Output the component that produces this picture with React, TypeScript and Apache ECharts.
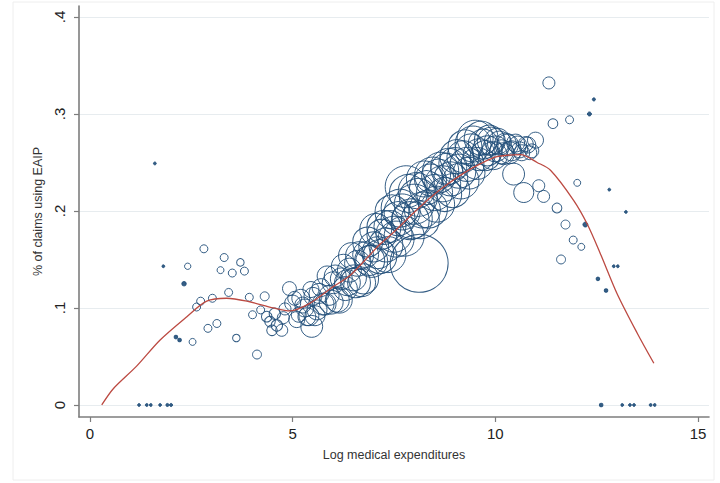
import React, { useEffect, useRef } from "react";
import * as echarts from "echarts";

// Binned observations: log medical expenditure, share of claims using EAIP, claims per bin
const logExp = [
  1.21, 1.4, 1.5, 1.6, 1.73, 1.81, 1.91, 2.0, 2.12, 2.21, 2.32, 2.41, 2.53, 2.63, 2.73, 2.81,
  2.91, 3.02, 3.13, 3.22, 3.31, 3.42, 3.51, 3.61, 3.71, 3.81, 3.93, 4.01, 4.12, 4.21, 4.31,
  4.36, 4.44, 4.49, 4.56, 4.61, 4.73, 4.77, 4.81, 4.92,
  5.0, 5.1, 5.2, 5.3, 5.4, 5.47, 5.5, 5.6, 5.7, 5.8, 5.9, 6.0, 6.1, 6.2, 6.3, 6.4, 6.5, 6.6,
  6.7, 6.8, 6.9, 7.0, 7.1, 7.2, 7.3, 7.4, 7.5, 7.6, 7.7, 7.8, 7.9, 8.0, 8.1, 8.12, 8.2, 8.3,
  8.4, 8.5, 8.6, 8.7, 8.8, 8.9, 9.0, 9.1, 9.2, 9.3, 9.4, 9.5, 9.6, 9.7, 9.8, 9.9, 10.0, 10.1,
  10.2, 10.3, 10.4, 10.45, 10.5, 10.6, 10.7, 10.8, 10.9, 10.99, 11.07, 11.19,
  11.32, 11.42, 11.52, 11.62, 11.73, 11.83, 11.92, 12.02, 12.12, 12.22, 12.32, 12.43, 12.53,
  12.61, 12.73, 12.81, 12.92, 13.02, 13.13, 13.22, 13.32, 13.42, 13.83, 13.93,
];
const claimShare = [
  0, 0, 0, 0.249, 0, 0.143, 0, 0, 0.07, 0.067, 0.125, 0.143, 0.065, 0.101, 0.107, 0.161,
  0.079, 0.11, 0.084, 0.139, 0.152, 0.116, 0.136, 0.069, 0.147, 0.138, 0.111, 0.093, 0.052, 0.098, 0.112,
  0.091, 0.086, 0.077, 0.094, 0.082, 0.077, 0.09, 0.099, 0.12,
  0.105, 0.088, 0.11, 0.1, 0.092, 0.081, 0.112, 0.098, 0.121, 0.104, 0.113, 0.126, 0.108, 0.13, 0.12, 0.139, 0.131, 0.146,
  0.126, 0.155, 0.149, 0.163, 0.157, 0.176, 0.165, 0.184, 0.176, 0.192, 0.199, 0.225, 0.19, 0.207, 0.214, 0.146, 0.201, 0.224,
  0.232, 0.219, 0.236, 0.228, 0.243, 0.233, 0.249, 0.241, 0.256, 0.248, 0.263, 0.275, 0.258, 0.269, 0.262, 0.272, 0.264, 0.27,
  0.259, 0.268, 0.262, 0.238, 0.27, 0.263, 0.219, 0.268, 0.262, 0.273, 0.226, 0.215,
  0.332, 0.29, 0.203, 0.15, 0.186, 0.294, 0.17, 0.229, 0.163, 0.186, 0.3, 0.315, 0.13,
  0, 0.118, 0.222, 0.143, 0.143, 0, 0.199, 0, 0, 0, 0,
];
const claims = [
  0.5, 0.5, 0.5, 0.5, 0.5, 0.5, 0.6, 0.6, 0.8, 0.8, 1.2, 2.5, 3, 4, 4, 4,
  4, 4, 4, 3, 4, 4, 4, 3.5, 3.5, 4, 4, 4, 5, 4, 5,
  7, 7, 7, 8, 8, 9, 9, 9, 12,
  16, 16, 20, 20, 25, 30, 20, 25, 20, 30, 25, 30, 36, 30, 36, 36, 42, 42,
  49, 42, 56, 56, 64, 56, 72, 64, 81, 72, 81, 110, 90, 100, 90, 210, 81, 72,
  64, 81, 72, 81, 64, 72, 64, 72, 64, 72, 64, 81, 64, 56, 56, 49, 42, 36,
  30, 30, 25, 30, 20, 16, 25, 16, 12, 16, 9, 9,
  9, 6, 6, 5, 5, 4, 4, 3, 3, 1.5, 1, 0.6, 0.8,
  0.8, 0.8, 0.5, 0.5, 0.5, 0.5, 0.5, 0.5, 0.5, 0.5, 0.5,
];

// Finer bins in the dense middle range
const midLogExp = [
  5.05, 5.15, 5.25, 5.35, 5.45, 5.55, 5.65, 5.75, 5.85, 5.95, 6.05, 6.15, 6.25, 6.35, 6.45,
  6.55, 6.65, 6.75, 6.85, 6.95, 7.05, 7.15, 7.25, 7.35, 7.45, 7.55, 7.65, 7.75, 7.85, 7.95,
  8.05, 8.15, 8.25, 8.35, 8.45, 8.55, 8.65, 8.75, 8.85, 8.95, 9.05, 9.15, 9.25, 9.35, 9.45,
  9.55, 9.65, 9.75, 9.85, 9.95, 10.05, 10.15, 10.25, 10.35, 10.55, 10.65, 10.75, 10.85,
];
const midShare = [
  0.11, 0.093, 0.103, 0.091, 0.119, 0.092, 0.115, 0.104, 0.133, 0.106, 0.133, 0.108, 0.143, 0.126, 0.154,
  0.126, 0.154, 0.13, 0.168, 0.148, 0.181, 0.153, 0.183, 0.155, 0.199, 0.171, 0.203, 0.174, 0.218, 0.192,
  0.221, 0.191, 0.233, 0.202, 0.237, 0.207, 0.242, 0.217, 0.246, 0.221, 0.256, 0.231, 0.266, 0.239, 0.269,
  0.249, 0.275, 0.257, 0.273, 0.257, 0.272, 0.261, 0.269, 0.26, 0.268, 0.26, 0.269, 0.26,
];
const midClaims = [
  12, 14, 16, 20, 16, 25, 25, 30, 25, 36, 30, 42, 36, 42, 42,
  56, 49, 56, 56, 64, 64, 72, 72, 81, 72, 81, 90, 100, 90, 100,
  81, 90, 81, 90, 81, 81, 81, 72, 81, 72, 72, 81, 72, 64, 81,
  64, 72, 56, 56, 49, 42, 36, 30, 30, 20, 16, 14, 12,
];

// Lowess fit
const curveX = [
  0.29, 0.58, 1.15, 1.73, 2.39, 2.88, 3.37, 3.87, 4.53, 4.94, 5.43, 6.0, 6.4, 6.8, 7.16, 7.49,
  7.98, 8.4, 8.8, 9.22, 9.6, 10.04, 10.62, 11.03, 11.36, 11.93, 12.26, 12.59, 13.0, 13.5, 13.91,
];
const curveY = [
  0.0, 0.017, 0.04, 0.067, 0.091, 0.107, 0.11, 0.107, 0.1, 0.097, 0.105, 0.122, 0.133, 0.15, 0.166, 0.178,
  0.198, 0.214, 0.227, 0.239, 0.248, 0.256, 0.258, 0.25, 0.242, 0.211, 0.187, 0.156, 0.115, 0.074, 0.043,
];

const xTicks = [0, 5, 10, 15];
const yTicks = [0, 0.1, 0.2, 0.3, 0.4];

const FONT = "Liberation Sans, Arial, sans-serif";
const NAVY = "#1f4d78";

export default function App() {
  const ref = useRef<HTMLDivElement>(null);

  useEffect(() => {
    if (!ref.current) return;
    const chart = echarts.init(ref.current, undefined, { renderer: "svg" });

    const points = [
      ...logExp.map((x, i) => [x, claimShare[i], claims[i]]),
      ...midLogExp.map((x, i) => [x, midShare[i], midClaims[i]]),
    ];
    const curve = curveX.map((x, i) => [x, curveY[i]]);

    chart.setOption({
      animation: false,
      backgroundColor: "#ffffff",
      graphic: [
        {
          type: "rect",
          shape: { x: 13, y: 2, width: 701, height: 478 },
          style: { fill: "none", stroke: "#eeeeee", lineWidth: 1 },
          silent: true,
        },
      ],
      grid: { left: 79, right: 11, top: 6, bottom: 66, containLabel: false },
      xAxis: {
        type: "value",
        min: -0.271,
        max: 15.27,
        name: "Log medical expenditures",
        nameLocation: "middle",
        nameGap: 31,
        nameTextStyle: { fontFamily: FONT, fontSize: 12.5, color: "#333" },
        axisLine: { show: true, onZero: false, lineStyle: { color: "#7d7d7d", width: 1.6 } },
        axisTick: { show: true, length: 5, customValues: xTicks, lineStyle: { color: "#7d7d7d", width: 1.2 } },
        axisLabel: {
          customValues: xTicks,
          margin: 9,
          fontFamily: FONT,
          fontSize: 15,
          color: "#222",
        },
        splitLine: { show: false },
      },
      yAxis: {
        type: "value",
        min: -0.0124,
        max: 0.4113,
        name: "% of claims using EAIP",
        nameLocation: "middle",
        nameGap: 33,
        nameRotate: 90,
        nameTextStyle: { fontFamily: FONT, fontSize: 12.5, color: "#333" },
        axisLine: { show: true, onZero: false, lineStyle: { color: "#7d7d7d", width: 1.6 } },
        axisTick: { show: true, length: 5, customValues: yTicks, lineStyle: { color: "#7d7d7d", width: 1.2 } },
        axisLabel: {
          customValues: yTicks,
          rotate: 90,
          margin: 12,
          fontFamily: FONT,
          fontSize: 15,
          color: "#222",
          formatter: (v: number) => (v === 0 ? "0" : String(Math.round(v * 10) / 10).replace(/^0/, "")),
        },
        splitLine: { show: true, lineStyle: { color: "#e7ecef", width: 1.2 } },
      },
      series: [
        {
          type: "scatter",
          data: points,
          symbol: "circle",
          symbolSize: (v: number[]) => 4 * Math.sqrt(v[2]),
          itemStyle: {
            color: (p: any) => (p.value[2] <= 1.5 ? NAVY : "rgba(0,0,0,0)"),
            borderColor: NAVY,
            borderWidth: 1,
            opacity: 0.9,
          },
          emphasis: { disabled: true },
          z: 2,
        },
        {
          type: "line",
          data: curve,
          smooth: 0.3,
          showSymbol: false,
          symbol: "none",
          lineStyle: { color: "#bc4a42", width: 1.3 },
          emphasis: { disabled: true },
          z: 3,
        },
      ],
    });

    return () => chart.dispose();
  }, []);

  return (
    <div
      ref={ref}
      style={{ position: "fixed", left: 0, top: 0, width: 720, height: 483, background: "#fff" }}
    />
  );
}
